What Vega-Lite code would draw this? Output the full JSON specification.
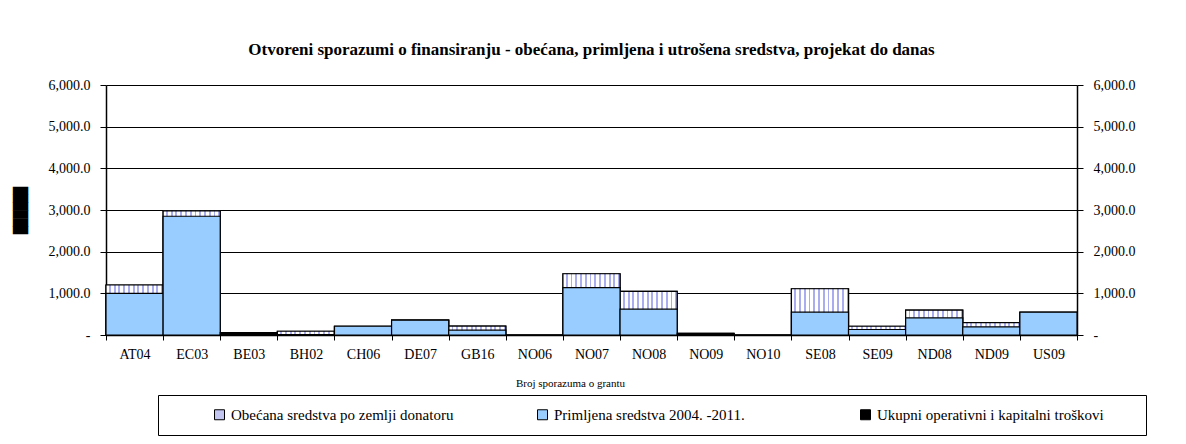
{
  "$schema": "https://vega.github.io/schema/vega-lite/v6.json",
  "autosize": {"type": "none"},
  "width": 971,
  "height": 250,
  "padding": {"left": 106, "top": 85, "right": 109, "bottom": 109},
  "background": "white",
  "title": {
    "text": "Otvoreni sporazumi o finansiranju - obećana, primljena i utrošena sredstva, projekat do danas",
    "font": "Liberation Serif",
    "fontSize": 17,
    "fontWeight": "bold",
    "color": "#000",
    "anchor": "middle",
    "frame": "group",
    "offset": 19
  },
  "data": {
    "values": [
      {"code": "AT04", "series": "Obećana sredstva po zemlji donatoru", "value": 1200},
      {"code": "EC03", "series": "Obećana sredstva po zemlji donatoru", "value": 2980},
      {"code": "BE03", "series": "Obećana sredstva po zemlji donatoru", "value": 0},
      {"code": "BH02", "series": "Obećana sredstva po zemlji donatoru", "value": 90},
      {"code": "CH06", "series": "Obećana sredstva po zemlji donatoru", "value": 210},
      {"code": "DE07", "series": "Obećana sredstva po zemlji donatoru", "value": 355},
      {"code": "GB16", "series": "Obećana sredstva po zemlji donatoru", "value": 215},
      {"code": "NO06", "series": "Obećana sredstva po zemlji donatoru", "value": 0},
      {"code": "NO07", "series": "Obećana sredstva po zemlji donatoru", "value": 1470},
      {"code": "NO08", "series": "Obećana sredstva po zemlji donatoru", "value": 1045},
      {"code": "NO09", "series": "Obećana sredstva po zemlji donatoru", "value": 0},
      {"code": "NO10", "series": "Obećana sredstva po zemlji donatoru", "value": 0},
      {"code": "SE08", "series": "Obećana sredstva po zemlji donatoru", "value": 1110},
      {"code": "SE09", "series": "Obećana sredstva po zemlji donatoru", "value": 210},
      {"code": "ND08", "series": "Obećana sredstva po zemlji donatoru", "value": 595},
      {"code": "ND09", "series": "Obećana sredstva po zemlji donatoru", "value": 295},
      {"code": "US09", "series": "Obećana sredstva po zemlji donatoru", "value": 545},
      {"code": "AT04", "series": "Primljena sredstva 2004. -2011.", "value": 1000},
      {"code": "EC03", "series": "Primljena sredstva 2004. -2011.", "value": 2850},
      {"code": "BE03", "series": "Primljena sredstva 2004. -2011.", "value": 0},
      {"code": "BH02", "series": "Primljena sredstva 2004. -2011.", "value": 10},
      {"code": "CH06", "series": "Primljena sredstva 2004. -2011.", "value": 210},
      {"code": "DE07", "series": "Primljena sredstva 2004. -2011.", "value": 355},
      {"code": "GB16", "series": "Primljena sredstva 2004. -2011.", "value": 115},
      {"code": "NO06", "series": "Primljena sredstva 2004. -2011.", "value": 0},
      {"code": "NO07", "series": "Primljena sredstva 2004. -2011.", "value": 1135},
      {"code": "NO08", "series": "Primljena sredstva 2004. -2011.", "value": 620},
      {"code": "NO09", "series": "Primljena sredstva 2004. -2011.", "value": 0},
      {"code": "NO10", "series": "Primljena sredstva 2004. -2011.", "value": 0},
      {"code": "SE08", "series": "Primljena sredstva 2004. -2011.", "value": 547},
      {"code": "SE09", "series": "Primljena sredstva 2004. -2011.", "value": 132},
      {"code": "ND08", "series": "Primljena sredstva 2004. -2011.", "value": 412},
      {"code": "ND09", "series": "Primljena sredstva 2004. -2011.", "value": 197},
      {"code": "US09", "series": "Primljena sredstva 2004. -2011.", "value": 547},
      {"code": "BE03", "series": "Ukupni operativni i kapitalni troškovi", "value": 60},
      {"code": "NO09", "series": "Ukupni operativni i kapitalni troškovi", "value": 40}
    ]
  },
  "resolve": {"axis": {"y": "independent"}},
  "layer": [
    {
      "transform": [{"filter": "datum.series === 'Obećana sredstva po zemlji donatoru'"}],
      "mark": {"type": "bar", "stroke": "#000", "strokeWidth": 1.2},
      "encoding": {
        "x": {"field": "code", "type": "nominal", "sort": null,
              "scale": {"domain": ["AT04","EC03","BE03","BH02","CH06","DE07","GB16","NO06","NO07","NO08","NO09","NO10","SE08","SE09","ND08","ND09","US09"], "paddingInner": 0, "paddingOuter": 0},
              "axis": {"title": "Broj sporazuma o grantu"}},
        "y": {"field": "value", "type": "quantitative", "scale": {"domain": [0, 6000], "nice": false},
              "axis": {"orient": "left", "values": [0,1000,2000,3000,4000,5000,6000], "grid": true,
                       "title": "██████", "titleFont": "DejaVu Sans Mono", "titleFontSize": 13, "titleFontWeight": "normal",
                       "titleAngle": 270, "titleX": -86, "titleY": 125, "titleAlign": "center", "titleBaseline": "middle", "titleColor": "#000"}},
        "color": {"field": "series", "type": "nominal",
                  "scale": {"domain": ["Obećana sredstva po zemlji donatoru", "Primljena sredstva 2004. -2011.", "Ukupni operativni i kapitalni troškovi"],
                            "range": ["#c4c6f2", "#99ccff", "#000000"]},
                  "legend": {"title": " ", "titleOrient": "right", "titlePadding": 30, "titleFontSize": 14,
                             "orient": "none", "legendX": 52, "legendY": 310, "direction": "horizontal", "columns": 3,
                             "gridAlign": "all", "columnPadding": 35, "symbolOffset": 42,
                             "symbolType": "square", "symbolSize": 100, "symbolStrokeColor": "#000", "symbolStrokeWidth": 1,
                             "labelFont": "Liberation Serif", "labelFontSize": 15, "labelColor": "#000", "labelLimit": 400,
                             "strokeColor": "#000", "fillColor": "#fff", "padding": 12}}
      }
    },
    {
      "transform": [{"filter": "datum.series === 'Obećana sredstva po zemlji donatoru'"}],
      "mark": {"type": "bar", "stroke": "#000", "strokeWidth": 1.2,
               "fill": {"gradient": "linear", "x1": 0, "y1": 0, "x2": 1, "y2": 0,
                        "stops": [
                          {"offset": 0, "color": "#ffffff"}, {"offset": 0.05, "color": "#ffffff"}, {"offset": 0.05, "color": "#a9adf0"}, {"offset": 0.0833, "color": "#a9adf0"},
                          {"offset": 0.0833, "color": "#ffffff"}, {"offset": 0.1333, "color": "#ffffff"}, {"offset": 0.1333, "color": "#a9adf0"}, {"offset": 0.1667, "color": "#a9adf0"},
                          {"offset": 0.1667, "color": "#ffffff"}, {"offset": 0.2167, "color": "#ffffff"}, {"offset": 0.2167, "color": "#a9adf0"}, {"offset": 0.25, "color": "#a9adf0"},
                          {"offset": 0.25, "color": "#ffffff"}, {"offset": 0.3, "color": "#ffffff"}, {"offset": 0.3, "color": "#a9adf0"}, {"offset": 0.3333, "color": "#a9adf0"},
                          {"offset": 0.3333, "color": "#ffffff"}, {"offset": 0.3833, "color": "#ffffff"}, {"offset": 0.3833, "color": "#a9adf0"}, {"offset": 0.4167, "color": "#a9adf0"},
                          {"offset": 0.4167, "color": "#ffffff"}, {"offset": 0.4667, "color": "#ffffff"}, {"offset": 0.4667, "color": "#a9adf0"}, {"offset": 0.5, "color": "#a9adf0"},
                          {"offset": 0.5, "color": "#ffffff"}, {"offset": 0.55, "color": "#ffffff"}, {"offset": 0.55, "color": "#a9adf0"}, {"offset": 0.5833, "color": "#a9adf0"},
                          {"offset": 0.5833, "color": "#ffffff"}, {"offset": 0.6333, "color": "#ffffff"}, {"offset": 0.6333, "color": "#a9adf0"}, {"offset": 0.6667, "color": "#a9adf0"},
                          {"offset": 0.6667, "color": "#ffffff"}, {"offset": 0.7167, "color": "#ffffff"}, {"offset": 0.7167, "color": "#a9adf0"}, {"offset": 0.75, "color": "#a9adf0"},
                          {"offset": 0.75, "color": "#ffffff"}, {"offset": 0.8, "color": "#ffffff"}, {"offset": 0.8, "color": "#a9adf0"}, {"offset": 0.8333, "color": "#a9adf0"},
                          {"offset": 0.8333, "color": "#ffffff"}, {"offset": 0.8833, "color": "#ffffff"}, {"offset": 0.8833, "color": "#a9adf0"}, {"offset": 0.9167, "color": "#a9adf0"},
                          {"offset": 0.9167, "color": "#ffffff"}, {"offset": 0.9667, "color": "#ffffff"}, {"offset": 0.9667, "color": "#a9adf0"}, {"offset": 1, "color": "#a9adf0"}
                        ]}},
      "encoding": {
        "x": {"field": "code", "type": "nominal", "sort": null, "axis": {"title": "Broj sporazuma o grantu"}},
        "y": {"field": "value", "type": "quantitative", "axis": null}
      }
    },
    {
      "transform": [{"filter": "datum.series !== 'Obećana sredstva po zemlji donatoru'"}],
      "mark": {"type": "bar", "stroke": "#000", "strokeWidth": 1.2},
      "encoding": {
        "x": {"field": "code", "type": "nominal", "sort": null, "axis": {"title": "Broj sporazuma o grantu"}},
        "y": {"field": "value", "type": "quantitative",
              "axis": {"orient": "right", "values": [0,1000,2000,3000,4000,5000,6000], "grid": false, "title": null}},
        "color": {"field": "series", "type": "nominal"}
      }
    }
  ],
  "config": {
    "view": {"stroke": null},
    "axis": {
      "labelFont": "Liberation Serif", "labelColor": "#000",
      "domainColor": "#000", "domainWidth": 1.5, "tickColor": "#000", "tickWidth": 1,
      "titleFont": "Liberation Serif", "titleColor": "#000", "titleFontWeight": "normal"
    },
    "axisX": {
      "labelAngle": 0, "labelFontSize": 14, "labelPadding": 7, "tickSize": 5, "tickBand": "extent",
      "titleFontSize": 11, "titleX": 464, "titleY": 48, "titleAlign": "center", "titleBaseline": "middle"
    },
    "axisY": {
      "labelFontSize": 14, "labelPadding": 10, "tickSize": 6,
      "gridColor": "#000", "gridWidth": 1, "gridOpacity": 1,
      "labelExpr": "datum.value === 0 ? '-' : format(datum.value, ',.1f')"
    }
  }
}
